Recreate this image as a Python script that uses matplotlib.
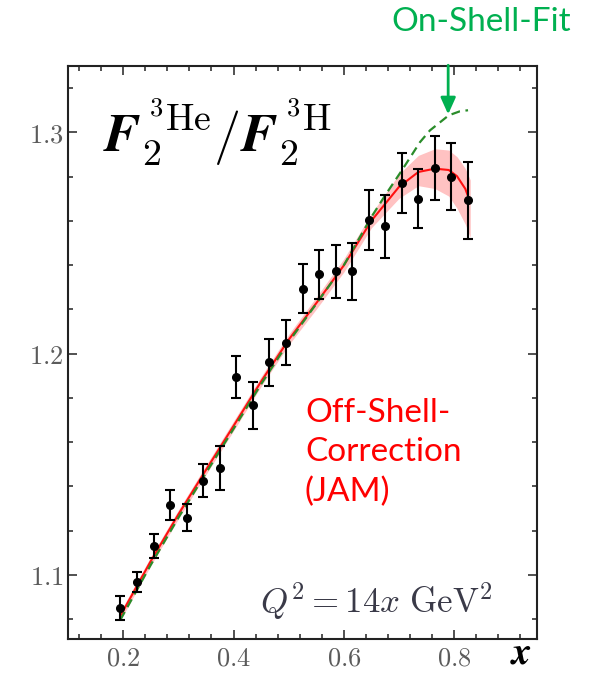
import numpy as np
import matplotlib
matplotlib.use("Agg")
import matplotlib.pyplot as plt
from matplotlib.ticker import MultipleLocator, FuncFormatter

plt.rcParams.update({
	"mathtext.fontset": "cm",
	"font.family": "DejaVu Serif",
})

# data points (x, F2 ratio, error)
x_data = [0.195, 0.225, 0.255, 0.285, 0.315, 0.345, 0.375, 0.405, 0.435, 0.465, 0.495,
	0.525, 0.555, 0.585, 0.615, 0.645, 0.675, 0.705, 0.735, 0.765, 0.795, 0.825]
y_data = [1.0850, 1.0967, 1.1131, 1.1317, 1.1259, 1.1426, 1.1484, 1.1894, 1.1766, 1.1960, 1.2049,
	1.2294, 1.2359, 1.2372, 1.2372, 1.2603, 1.2576, 1.2771, 1.2701, 1.2839, 1.2800, 1.2693]
y_err = [0.0054, 0.0046, 0.0055, 0.0068, 0.0063, 0.0076, 0.0099, 0.0095, 0.0107, 0.0108, 0.0102,
	0.0112, 0.0111, 0.0120, 0.0130, 0.0135, 0.0143, 0.0137, 0.0134, 0.0144, 0.0150, 0.0173]

# off-shell correction (JAM) curve with band
jam_x = [0.195, 0.25, 0.30, 0.35, 0.40, 0.45, 0.50, 0.55, 0.60, 0.65, 0.70,
	0.735, 0.765, 0.79, 0.805, 0.82, 0.829]
jam_y = [1.0815, 1.1062, 1.1273, 1.1474, 1.1673, 1.1874, 1.2063, 1.2228, 1.2399, 1.2601, 1.2754,
	1.2821, 1.2836, 1.2830, 1.2802, 1.2745, 1.2685]
jam_hi = [1.0835, 1.1082, 1.1293, 1.1495, 1.1695, 1.1896, 1.2087, 1.2255, 1.2429, 1.2633, 1.2812,
	1.2896, 1.2926, 1.2920, 1.2890, 1.2837, 1.2785]
jam_lo = [1.0795, 1.1042, 1.1253, 1.1453, 1.1651, 1.1852, 1.2039, 1.2201, 1.2369, 1.2569, 1.2702,
	1.2759, 1.2746, 1.2712, 1.2657, 1.2585, 1.2525]

# on-shell fit curve
fit_x = [0.195, 0.25, 0.30, 0.35, 0.40, 0.45, 0.50, 0.55, 0.60, 0.65, 0.675,
	0.705, 0.738, 0.756, 0.79, 0.81, 0.825]
fit_y = [1.0797, 1.1045, 1.1258, 1.1460, 1.1660, 1.1862, 1.2053, 1.2225, 1.2400, 1.2618, 1.2716,
	1.2828, 1.2956, 1.3009, 1.3077, 1.3095, 1.3100]

fig = plt.figure(figsize=(5.89, 6.73), dpi=100)
ax = fig.add_axes([68/589, 34/673, 469/589, 573/673])

ax.fill_between(jam_x, jam_lo, jam_hi, color="#ffc2c2", lw=0, zorder=1)
ax.plot(fit_x, fit_y, color="#2a8c2a", lw=1.6, ls=(0, (4, 2.5)), zorder=3)
ax.plot(jam_x, jam_y, color="#ff1010", lw=1.5, zorder=2)
ax.errorbar(x_data, y_data, yerr=y_err, fmt="o", color="black", ms=5.5,
	elinewidth=1.5, capsize=3.6, capthick=1.5, zorder=4)

ax.set_xlim(0.1, 0.95)
ax.set_ylim(1.071, 1.33)
ax.xaxis.set_major_locator(MultipleLocator(0.2))
ax.xaxis.set_minor_locator(MultipleLocator(0.04))
ax.yaxis.set_major_locator(MultipleLocator(0.1))
ax.yaxis.set_minor_locator(MultipleLocator(0.02))
ax.xaxis.set_major_formatter(FuncFormatter(lambda v, p: f"${v:.1f}$"))
ax.yaxis.set_major_formatter(FuncFormatter(lambda v, p: f"${v:.1f}$"))
ax.tick_params(which="both", direction="in", top=True, right=True, width=1.1,
	color="#222222", labelcolor="#5b5b5b", labelsize=19)
ax.tick_params(which="major", length=6.5)
ax.tick_params(which="minor", length=3.8)
ax.tick_params(axis="x", pad=5)
ax.tick_params(axis="y", pad=3)
for s in ax.spines.values():
	s.set_linewidth(1.5)
	s.set_color("#222222")

ax.text(0.0746, 0.8504, r"$\boldsymbol{F}_{\mathbf{2}}^{\,{}^3\mathrm{He}}/\boldsymbol{F}_{\mathbf{2}}^{\,{}^3\mathrm{H}}$",
	transform=ax.transAxes, fontsize=39, va="baseline", ha="left", color="black")
ax.text(0.906, 0.0454, r"$Q^2 = 14x\ \mathrm{GeV}^2$", transform=ax.transAxes,
	fontsize=25, va="baseline", ha="right", color="#3a3a48")
fig.text(521/589, 9/673, r"$\boldsymbol{x}$", fontsize=28, ha="center", va="baseline")

# annotations
fig.text(481/589, 1 - 22/673, "On-Shell-Fit", family="Lato", fontsize=24,
	color="#00b050", ha="center", va="center")
ax.annotate("", xy=(0.789, 1.3069), xytext=(0.789, 1.3316), annotation_clip=False,
	arrowprops=dict(arrowstyle="-|>,head_width=0.45,head_length=1.0", color="#00b050", lw=2))
fig.text(305/589, 1 - 398/673, "Off-Shell-\nCorrection\n(JAM)", family="Lato", fontsize=24,
	color="#ff0000", ha="left", va="top", linespacing=1.38)

fig.savefig("out.png", dpi=100)
